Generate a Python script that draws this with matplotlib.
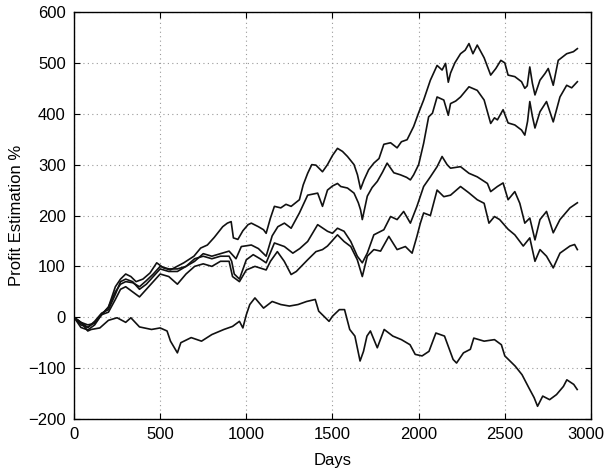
import matplotlib
matplotlib.use("Agg")
import matplotlib.pyplot as plt

plt.rcParams['font.family'] = ['Liberation Sans', 'DejaVu Sans']

days_a = [0,40,80,120,160,200,240,270,300,330,360,400,441,480,520,559,598,637,696,735,
          774,814,863,890,912,925,951,980,1010,1029,1070,1100,1115,1140,1163,1200,1230,1260,1308,1330,
          1356,1380,1404,1442,1471,1500,1529,1558,1587,1625,1645,1663,1683,1710,1740,1770,1798,1837,1875,1900,
          1933,1971,2000,2029,2068,2107,2136,2156,2172,2185,2210,2243,2270,2292,2315,2340,2380,2418,2448,2477,
          2500,2519,2558,2597,2616,2630,2645,2660,2675,2704,2733,2752,2781,2810,2859,2898,2921]
vals_a = [0,-10,-20,-10,5,20,60,75,85,80,70,75,87,107,97,93,100,107,120,136,
          142,157,178,185,188,156,153,170,182,185,178,172,165,195,218,215,222,218,231,260,
          283,300,299,286,300,318,332,326,316,300,280,252,270,290,303,312,340,343,333,345,
          349,375,402,427,466,495,486,499,462,480,500,518,525,538,518,535,510,476,489,505,
          500,476,473,463,450,455,492,460,437,466,479,489,456,505,518,522,528]

days_b = [0,40,80,120,160,200,240,270,300,340,380,420,460,500,550,600,650,700,750,800,
          850,900,940,971,1029,1070,1115,1150,1183,1221,1260,1308,1356,1414,1442,1471,1500,1529,1548,1587,
          1625,1650,1663,1673,1702,1730,1760,1790,1817,1856,1894,1930,1952,1971,2000,2029,2058,2080,2107,2146,
          2172,2185,2215,2243,2292,2340,2380,2418,2440,2457,2490,2519,2558,2597,2616,2632,2645,2660,2675,2704,
          2742,2781,2820,2859,2888,2921]
vals_b = [0,-10,-15,-12,5,20,50,65,70,68,60,72,85,100,95,95,100,110,125,120,
          125,130,115,139,142,135,120,160,178,185,175,205,240,244,218,250,258,263,257,254,
          244,225,211,192,238,255,267,285,303,284,280,275,270,280,300,342,394,401,433,427,
          397,420,425,433,453,446,427,381,392,388,408,382,378,368,358,385,424,395,372,404,
          424,384,433,456,451,463]

days_c = [0,40,80,120,160,200,240,270,300,340,380,420,460,500,550,600,650,700,750,800,
          850,900,915,930,960,1000,1040,1080,1115,1163,1221,1270,1310,1356,1414,1471,1500,1529,1567,1606,
          1644,1673,1702,1740,1798,1837,1875,1913,1952,1990,2029,2068,2107,2136,2165,2185,2243,2292,2340,2399,
          2418,2457,2490,2519,2558,2587,2616,2645,2675,2704,2742,2781,2820,2878,2921]
vals_c = [0,-15,-20,-8,8,15,45,70,75,70,55,65,80,95,90,90,100,115,120,115,
          120,120,110,85,75,113,123,115,107,146,139,126,135,149,182,169,165,175,169,149,
          120,107,126,162,172,198,192,208,185,218,257,276,296,316,300,293,296,283,276,263,
          247,257,264,231,247,224,185,195,152,192,208,166,192,215,225]

days_d = [0,40,80,120,160,200,240,270,300,340,380,420,460,500,550,600,650,700,750,800,
          850,900,920,960,1000,1050,1115,1140,1180,1220,1260,1290,1356,1404,1442,1471,1529,1567,1606,1644,
          1673,1702,1740,1779,1827,1875,1923,1962,1990,2010,2029,2068,2107,2146,2185,2243,2290,2340,2380,2408,
          2440,2470,2519,2558,2607,2645,2675,2704,2742,2781,2820,2878,2905,2921]
vals_d = [0,-20,-25,-15,5,10,35,55,60,50,40,55,70,85,80,65,85,100,105,100,
          110,110,80,70,93,100,93,110,129,110,84,90,113,129,133,140,162,149,139,113,
          80,120,133,130,159,133,139,126,159,185,205,200,250,237,240,257,245,231,224,185,
          198,192,173,162,140,156,110,133,120,97,126,140,143,133]

days_e = [0,50,80,100,150,200,250,300,330,380,450,500,540,560,600,620,680,740,800,870,
          920,960,980,1000,1020,1050,1100,1150,1200,1250,1300,1350,1400,1420,1450,1480,1500,1540,1570,1600,
          1630,1660,1680,1700,1720,1760,1800,1850,1900,1950,1980,2020,2060,2100,2150,2200,2220,2260,2300,2320,
          2380,2440,2480,2500,2560,2600,2640,2670,2690,2720,2760,2800,2840,2860,2900,2920]
vals_e = [0,-14,-27,-24,-21,-6,-1,-10,-1,-19,-24,-21,-27,-47,-70,-50,-40,-47,-34,-24,
          -18,-8,-21,5,25,38,18,31,25,22,25,31,35,12,2,-8,2,15,15,-24,
          -37,-86,-67,-37,-27,-60,-24,-37,-44,-54,-73,-76,-67,-31,-37,-83,-90,-70,-63,-41,
          -47,-44,-54,-76,-96,-113,-139,-158,-175,-155,-162,-152,-136,-123,-132,-142]

x_ticks = [0, 500, 1000, 1500, 2000, 2500, 3000]
y_ticks = [-200, -100, 0, 100, 200, 300, 400, 500, 600]

fig = plt.figure(figsize=(6.08, 4.75), dpi=100)
ax = fig.add_axes([0.1217, 0.1179, 0.8503, 0.8568])

for dd, vv in [(days_a, vals_a), (days_b, vals_b), (days_c, vals_c), (days_d, vals_d), (days_e, vals_e)]:
    ax.plot(dd, vv, color='#111111', linewidth=1.2)

ax.set_xlim(0, 3000)
ax.set_ylim(-200, 600)
ax.set_xticks(x_ticks)
ax.set_yticks(y_ticks)
ax.set_xticklabels([str(t) for t in x_ticks])
ax.set_yticklabels([str(t).replace('-', '\u2212') for t in y_ticks])
ax.get_xticklabels()[-1].set_horizontalalignment('right')
ax.get_xticklabels()[-1].set_x(3000)
ax.grid(True, linestyle=(0, (1, 3)), color='#999999', linewidth=0.8)
ax.tick_params(direction='in', top=True, right=True, labelsize=12, length=4, pad=6)
for s in ax.spines.values():
    s.set_linewidth(1.0)
ax.set_xlabel('Days', fontsize=12, labelpad=8)
ax.set_ylabel('Profit Estimation %', fontsize=12, labelpad=3)

# keep the last x label inside the picture while staying near its tick
lbl = ax.get_xticklabels()[-1]
lbl.set_horizontalalignment('center')
import matplotlib.transforms as mtransforms
lbl.set_transform(lbl.get_transform() + mtransforms.ScaledTranslation(-4 / 72, 0, fig.dpi_scale_trans))

fig.savefig('out.png', dpi=100)
